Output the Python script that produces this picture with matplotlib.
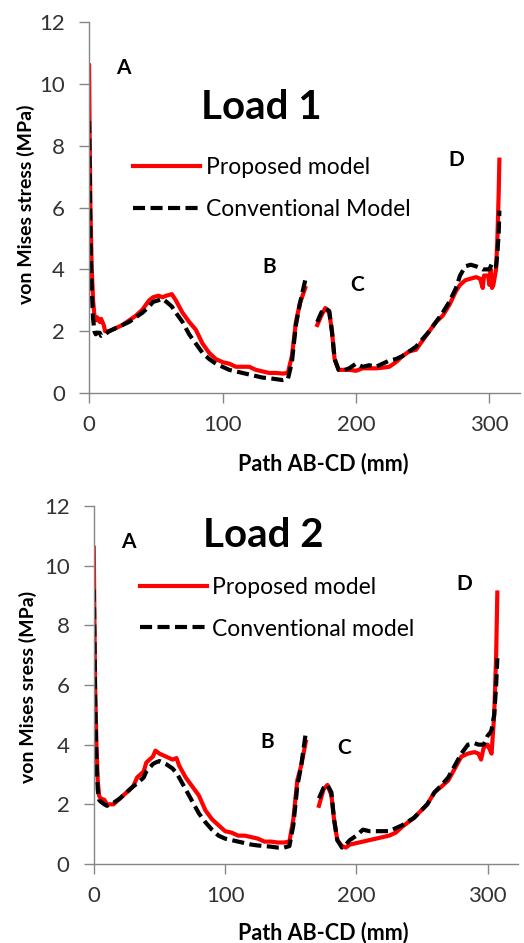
import numpy as np
import matplotlib.pyplot as plt

plt.rcParams['font.family'] = ['Lato', 'DejaVu Sans']

nan = np.nan

# ---- Load 1 data (path position mm, von Mises stress MPa) ----
x_load1 = [0, 0.5, 1, 2, 3, 4, 5, 6, 8, 9,
           11, 12, 15, 20, 25, 30, 35, 40, 45, 48,
           52, 55, 58, 62, 65, 70, 75, 80, 85, 90,
           95, 100, 105, 110, 115, 120, 125, 130, 135, 140,
           145, 149, 152, 155, 158, 162, nan, 171, 174, 177,
           180, 182, 184, 187, 190, 195, 200, 205, 210, 215,
           220, 225, 230, 235, 240, 245, 250, 255, 260, 265,
           270, 275, 278, 282, 286, 290, 293, 295, 296, 299,
           300, 301, 302, 303, 305, 306, 307, 307.5]
proposed_load1 = [10.6, 8.0, 6.0, 4.0, 3.0, 2.5, 2.35, 2.45, 2.3, 2.4,
                  2.2, 2.0, 2.0, 2.1, 2.2, 2.35, 2.5, 2.7, 3.0, 3.1,
                  3.15, 3.1, 3.15, 3.2, 3.0, 2.6, 2.3, 2.05, 1.6, 1.3,
                  1.1, 1.0, 0.95, 0.85, 0.85, 0.85, 0.75, 0.7, 0.65, 0.65,
                  0.63, 0.65, 1.2, 2.3, 2.9, 3.4, nan, 2.2, 2.5, 2.75,
                  2.6, 2.0, 1.1, 0.75, 0.75, 0.75, 0.72, 0.8, 0.8, 0.8,
                  0.82, 0.85, 1.0, 1.2, 1.35, 1.4, 1.7, 2.0, 2.3, 2.5,
                  2.85, 3.3, 3.5, 3.65, 3.7, 3.75, 3.7, 3.4, 3.8, 3.8,
                  3.5, 4.0, 3.4, 3.5, 4.0, 5.0, 6.5, 7.55]
conventional_load1 = [8.8, 7.0, 5.0, 3.3, 2.4, 2.0, 1.9, 1.95, 1.95, 1.85,
                      1.9, 1.9, 2.0, 2.1, 2.2, 2.3, 2.45, 2.6, 2.8, 2.95,
                      3.0, 3.05, 2.95, 2.8, 2.6, 2.3, 1.9, 1.6, 1.3, 1.1,
                      0.95, 0.85, 0.75, 0.7, 0.65, 0.6, 0.55, 0.5, 0.48, 0.45,
                      0.42, 0.45, 1.0, 2.2, 2.9, 3.65, nan, 2.3, 2.6, 2.75,
                      2.65, 2.0, 1.1, 0.75, 0.72, 0.8, 0.95, 0.85, 0.9, 0.85,
                      0.95, 1.05, 1.1, 1.2, 1.35, 1.5, 1.75, 2.0, 2.3, 2.6,
                      2.95, 3.4, 3.8, 4.1, 4.15, 4.1, 4.05, 4.0, 4.0, 4.0,
                      4.0, 4.1, 4.2, 4.1, 4.1, 4.5, 5.2, 5.9]

# ---- Load 2 data ----
x_load2 = [0, 0.5, 1, 2, 3, 4, 5, 8, 10, 15,
           20, 25, 30, 33, 38, 40, 45, 47, 50, 55,
           60, 63, 65, 70, 75, 80, 85, 90, 95, 100,
           105, 110, 115, 120, 125, 130, 135, 140, 145, 149,
           152, 155, 158, 161.5, nan, 171.5, 175, 178, 181, 183,
           185.5, 189, 192, 195, 200, 205, 210, 215, 220, 225,
           230, 235, 244, 254, 259.5, 265, 270, 275, 280, 285,
           290, 293, 295, 297, 300, 302, 303, 305, 306.5, 307.4]
proposed_load2 = [10.6, 8.0, 6.0, 4.0, 2.8, 2.3, 2.2, 2.15, 2.0, 2.0,
                  2.2, 2.4, 2.6, 2.9, 3.1, 3.4, 3.6, 3.8, 3.7, 3.6,
                  3.5, 3.55, 3.3, 2.9, 2.6, 2.3, 1.8, 1.5, 1.3, 1.1,
                  1.05, 0.95, 0.95, 0.9, 0.85, 0.75, 0.75, 0.72, 0.72, 0.75,
                  1.5, 2.8, 3.3, 4.1, nan, 1.95, 2.5, 2.65, 2.3, 1.5,
                  0.8, 0.6, 0.55, 0.65, 0.7, 0.75, 0.8, 0.85, 0.9, 0.95,
                  1.05, 1.25, 1.55, 2.0, 2.4, 2.6, 2.8, 3.2, 3.6, 3.7,
                  3.75, 3.7, 3.5, 3.9, 4.0, 3.8, 3.7, 5.0, 7.0, 9.1]
conventional_load2 = [9.2, 7.5, 5.5, 3.5, 2.5, 2.15, 2.1, 2.0, 1.95, 2.05,
                      2.2, 2.4, 2.6, 2.7, 2.9, 3.1, 3.35, 3.4, 3.45, 3.35,
                      3.2, 3.05, 2.9, 2.5, 2.1, 1.7, 1.4, 1.15, 0.95, 0.85,
                      0.8, 0.75, 0.7, 0.65, 0.62, 0.6, 0.58, 0.55, 0.55, 0.6,
                      1.3, 2.6, 3.3, 4.4, nan, 2.2, 2.55, 2.65, 2.4, 1.5,
                      0.8, 0.55, 0.65, 0.8, 0.95, 1.15, 1.1, 1.1, 1.1, 1.1,
                      1.2, 1.3, 1.55, 2.0, 2.4, 2.65, 2.9, 3.3, 3.7, 4.0,
                      4.05, 4.0, 4.0, 4.0, 4.3, 4.4, 4.5, 5.0, 6.0, 6.9]

x_ticks = [0, 100, 200, 300]
y_ticks = [0, 2, 4, 6, 8, 10, 12]

fig = plt.figure(figsize=(5.24, 9.43), dpi=100)

panels = [
    dict(rect=[0.170, 0.5832, 0.8225, 0.3934], x=x_load1, red=proposed_load1,
         black=conventional_load1, title='Load 1', title_xy=(129, 9.25),
         ylabel='von Mises stress (MPa)',
         labels=('Proposed model', 'Conventional Model'),
         letters={'A': (26, 10.5), 'B': (135, 4.08), 'C': (201, 3.5), 'D': (275.5, 7.54)},
         leg_anchor=(0.102, 0.636), ylab_xy=(-0.125, 0.51), xlab_xy=(0.543, -0.162)),
    dict(rect=[0.179, 0.0838, 0.8092, 0.3796], x=x_load2, red=proposed_load2,
         black=conventional_load2, title='Load 2', title_xy=(129, 11.0),
         ylabel='von Mises sress (MPa)',
         labels=('Proposed model', 'Conventional model'),
         letters={'A': (26.7, 10.8), 'B': (132, 4.09), 'C': (191, 3.9), 'D': (282, 9.4)},
         leg_anchor=(0.108, 0.802), ylab_xy=(-0.134, 0.494), xlab_xy=(0.541, -0.162)),
]

for p in panels:
    ax = fig.add_axes(p['rect'])
    ax.plot(p['x'], p['red'], color='#ff0000', lw=3.0, label=p['labels'][0])
    ax.plot(p['x'], p['black'], color='black', lw=3.0, ls=(0, (2.9, 1.3)),
            label=p['labels'][1])
    ax.set_xlim(0, 323)
    ax.set_ylim(0, 12)
    ax.set_xticks(x_ticks)
    ax.set_yticks(y_ticks)
    for s in ['top', 'right']:
        ax.spines[s].set_visible(False)
    for s in ['left', 'bottom']:
        ax.spines[s].set_color('#868686')
        ax.spines[s].set_linewidth(1)
    ax.tick_params(direction='out', length=7, width=1, color='#868686',
                   labelsize=16, labelcolor='#333333')
    ax.tick_params(axis='x', pad=8.5)
    ax.tick_params(axis='y', pad=10.5)
    ax.set_ylabel(p['ylabel'], fontsize=14, fontweight='bold')
    ax.yaxis.set_label_coords(*p['ylab_xy'])
    ax.set_xlabel('Path AB-CD (mm)', fontsize=15.5, fontweight='bold')
    ax.xaxis.set_label_coords(*p['xlab_xy'])
    ax.text(*p['title_xy'], p['title'], fontsize=29, fontweight='bold',
            ha='center', va='center')
    for k, (lx, ly) in p['letters'].items():
        ax.text(lx, ly, k, fontsize=15, fontweight='bold', ha='center', va='center')
    ax.legend(loc='upper left', bbox_to_anchor=p['leg_anchor'], frameon=False,
              fontsize=16.5, handlelength=2.93, handletextpad=0.25, labelspacing=0.9,
              borderpad=0, borderaxespad=0)

fig.savefig('out.png', dpi=100)
